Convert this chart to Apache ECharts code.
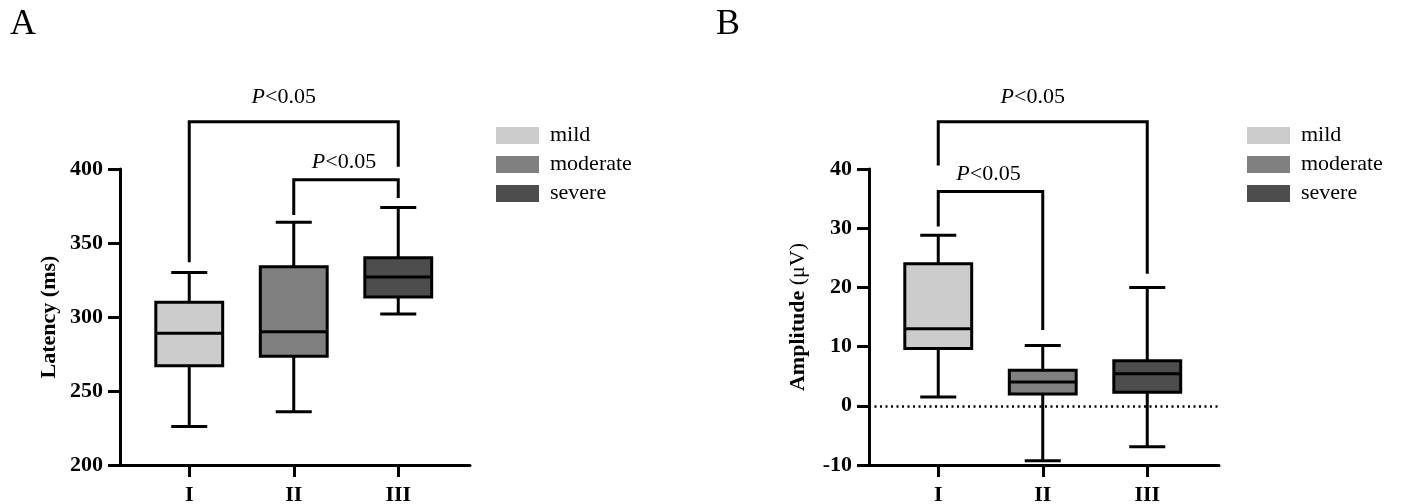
<!DOCTYPE html>
<html>
<head>
<meta charset="utf-8">
<script src="https://cdn.jsdelivr.net/npm/echarts@6/dist/echarts.min.js"></script>
<style>
  html, body { margin: 0; padding: 0; background: #fff; }
  #chart { width: 1402px; height: 504px; }
</style>
</head>
<body>
<div id="chart"></div>
<script>
const categories = ['I', 'II', 'III'];
const severity = ['mild', 'moderate', 'severe'];
const colorList = ['#cccccc', '#808080', '#4d4d4d'];

// [min, Q1, median, Q3, max] per category
const latencyStats = [
    [226, 267, 289, 310, 330],
    [236, 273.5, 290, 334, 364],
    [302, 313.5, 327, 340, 374]
];
const amplitudeStats = [
    [1.5, 9.7, 13, 24, 28.8],
    [-9.3, 2, 4, 6, 10.2],
    [-6.9, 2.3, 5.4, 7.6, 20]
];
const latencyTicks = [200, 250, 300, 350, 400];
const amplitudeTicks = [-10, 0, 10, 20, 30, 40];

// [from, to, top, left end, right end]
const latencyBrackets = [
    [0, 2, 432, 337, 401.5],
    [1, 2, 392.8, 369, 380.4]
];
const amplitudeBrackets = [
    [0, 2, 48, 40.6, 22.3],
    [0, 1, 36.2, 30.3, 12.8]
];
const pText = '{i|P}<0.05';

const serif = "'Liberation Serif', 'Times New Roman', serif";
// label shift [dx, gap above line] for each bracket
const labelShift = [[-10, 16], [-2, 9]];

const panels = [
    { letter: 'A', axisX: 120, legendX: 491, name: 'Latency (ms)', stats: latencyStats, ticks: latencyTicks, brackets: latencyBrackets, zero: false },
    { letter: 'B', axisX: 869, legendX: 1242, name: '{b|Amplitude} {r|(μV)}', stats: amplitudeStats, ticks: amplitudeTicks, brackets: amplitudeBrackets, zero: true }
];

const gridTop = 169;
const gridH = 296;
const bandOffset = 17;
const bandW = 313.5;
const axisW = 350;

const renderBox = (color) => (params, api) => {
    const x = api.value(0);
    const band = api.size([1, 0])[0];
    const boxW = band * 0.64;
    const capW = band * 0.345;
    const c = (v) => api.coord([x, v]);
    const pMin = c(api.value(1)), pQ1 = c(api.value(2)), pMed = c(api.value(3)), pQ3 = c(api.value(4)), pMax = c(api.value(5));
    const cx = pMed[0];
    const line = (x1, y1, x2, y2) => ({
        type: 'line',
        shape: { x1, y1, x2, y2 },
        style: { stroke: '#000', lineWidth: 3 }
    });
    return {
        type: 'group',
        children: [
            line(cx, pQ3[1], cx, pMax[1]),
            line(cx, pQ1[1], cx, pMin[1]),
            line(cx - capW / 2, pMax[1], cx + capW / 2, pMax[1]),
            line(cx - capW / 2, pMin[1], cx + capW / 2, pMin[1]),
            {
                type: 'rect',
                shape: { x: cx - boxW / 2, y: pQ3[1], width: boxW, height: pQ1[1] - pQ3[1] },
                style: { fill: color, stroke: '#000', lineWidth: 3 }
            },
            line(cx - boxW / 2, pMed[1], cx + boxW / 2, pMed[1])
        ]
    };
};

const renderBracket = (params, api) => {
    const a = api.value(0), b = api.value(1);
    const pTop1 = api.coord([a, api.value(2)]);
    const pTop2 = api.coord([b, api.value(2)]);
    const pEnd1 = api.coord([a, api.value(3)]);
    const pEnd2 = api.coord([b, api.value(4)]);
    const shift = labelShift[params.dataIndex];
    return {
        type: 'group',
        children: [
            {
                type: 'polyline',
                shape: { points: [pEnd1, pTop1, pTop2, pEnd2] },
                style: { stroke: '#000', lineWidth: 3, fill: null }
            },
            {
                type: 'text',
                x: (pTop1[0] + pTop2[0]) / 2 + shift[0],
                y: pTop1[1] - shift[1] + 3,
                style: {
                    text: pText,
                    align: 'center',
                    verticalAlign: 'bottom',
                    font: '22px ' + serif,
                    fill: '#000',
                    rich: { i: { fontStyle: 'italic', fontSize: 22, fontFamily: serif } }
                }
            }
        ]
    };
};

const grid = [], xAxis = [], yAxis = [], series = [], legend = [], title = [];

panels.forEach((p, k) => {
    const g = k * 2;
    grid.push({ left: p.axisX + bandOffset, top: gridTop, width: bandW, height: gridH, outerBoundsMode: 'none', containLabel: false });
    grid.push({ left: p.axisX, top: gridTop, width: axisW, height: gridH, outerBoundsMode: 'none', containLabel: false });
    const ticks = p.ticks;
    xAxis.push({
        type: 'category', gridIndex: g, data: categories,
        axisLine: { show: false, onZero: false },
        axisTick: { show: true, alignWithLabel: true, length: 12, lineStyle: { color: '#000', width: 3 } },
        axisLabel: { margin: 19, color: '#000', fontSize: 22, fontWeight: 'bold', fontFamily: serif },
        splitLine: { show: false }
    });
    xAxis.push({
        type: 'value', gridIndex: g + 1, min: 0, max: 1,
        axisLine: { show: true, onZero: false, lineStyle: { color: '#000', width: 3 } },
        axisTick: { show: false }, axisLabel: { show: false }, splitLine: { show: false }
    });
    yAxis.push({
        type: 'value', gridIndex: g, offset: bandOffset,
        min: ticks[0], max: ticks[ticks.length - 1], interval: ticks[1] - ticks[0],
        name: p.name, nameLocation: 'middle', nameRotate: 90, nameGap: 60,
        nameTextStyle: {
            color: '#000', fontSize: 22, fontWeight: 'bold', fontFamily: serif,
            rich: {
                b: { fontSize: 22, fontWeight: 'bold', fontFamily: serif, color: '#000' },
                r: { fontSize: 22, fontWeight: 'normal', fontFamily: serif, color: '#000' }
            }
        },
        axisLine: { show: true, lineStyle: { color: '#000', width: 3 } },
        axisTick: { show: true, length: 12, lineStyle: { color: '#000', width: 3 } },
        axisLabel: { margin: 17, color: '#000', fontSize: 22, fontWeight: 'bold', fontFamily: serif },
        splitLine: { show: false }
    });
    yAxis.push({
        type: 'value', gridIndex: g + 1, show: false,
        min: ticks[0], max: ticks[ticks.length - 1]
    });

    severity.forEach((s, i) => {
        series.push({
            type: 'custom', name: s, xAxisIndex: g, yAxisIndex: g,
            itemStyle: { color: colorList[i] },
            encode: { x: 0, y: [1, 2, 3, 4, 5] },
            renderItem: renderBox(colorList[i]),
            data: [[i].concat(p.stats[i])],
            z: 3
        });
    });
    series.push({
        type: 'custom', name: 'bracket' + k, xAxisIndex: g, yAxisIndex: g,
        clip: false,
        encode: { x: [0, 1], y: [2, 3, 4] },
        renderItem: renderBracket,
        data: p.brackets,
        z: 4
    });
    if (p.zero) {
        series.push({
            type: 'line', name: 'zero', xAxisIndex: g + 1, yAxisIndex: g + 1,
            data: [],
            markLine: {
                silent: true, symbol: 'none', label: { show: false },
                lineStyle: { color: '#000', width: 2.5, type: [2, 3.5] },
                data: [{ yAxis: 0 }]
            },
            z: 1
        });
    }
    legend.push({
        data: severity, orient: 'vertical', left: p.legendX, top: 119.5,
        icon: 'rect', itemWidth: 43, itemHeight: 17, itemGap: 7,
        itemStyle: { borderWidth: 0 },
        textStyle: { color: '#000', fontSize: 22, fontFamily: serif, padding: [0, 0, 0, 6] },
        selectedMode: false
    });
    title.push({
        text: p.letter, left: p.axisX - (k === 0 ? 115 : 158), top: 2,
        textStyle: { color: '#000', fontSize: 36, fontWeight: 'normal', fontFamily: serif }
    });
});

const myChart = echarts.init(document.getElementById('chart'));
myChart.setOption({
    animation: false,
    backgroundColor: '#fff',
    title, grid, xAxis, yAxis, legend, series
});
</script>
</body>
</html>
